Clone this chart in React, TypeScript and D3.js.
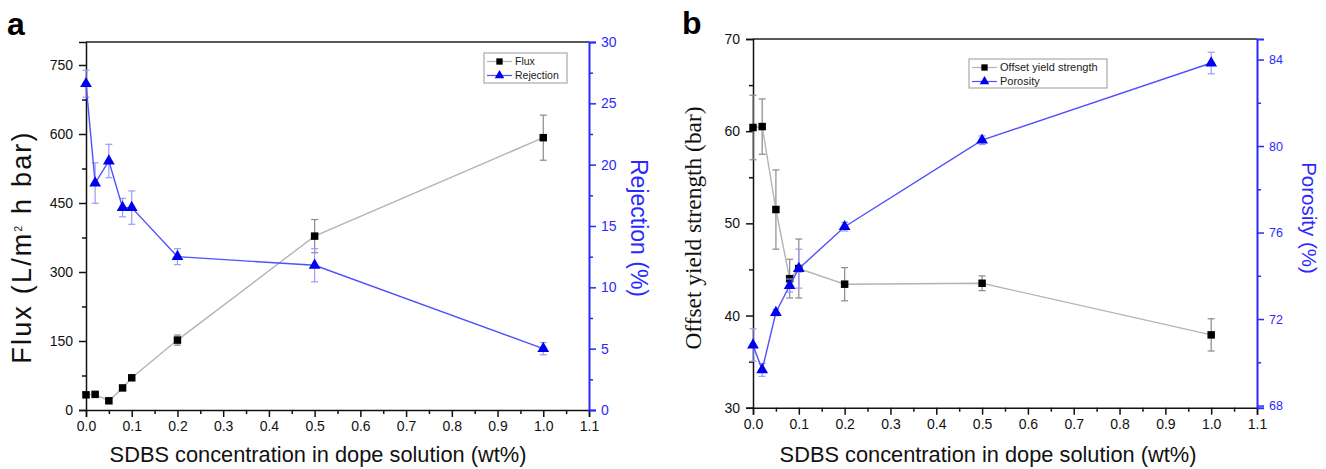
import React, { useEffect, useRef } from 'react';
import * as d3 from 'd3';

// SDBS concentration (wt%)
const concentration = [0, 0.02, 0.05, 0.08, 0.1, 0.2, 0.5, 1.0];

// panel a
const fluxValues = [33, 34, 20, 48, 70, 152, 378, 592];
const fluxErrors = [4, 4, 4, 5, 5, 11, 36, 49];
const rejectionValues = [26.6, 18.5, 20.3, 16.5, 16.5, 12.5, 11.8, 5.0];
const rejectionErrors = [1.1, 1.65, 1.36, 0.75, 1.36, 0.65, 1.35, 0.5];

// panel b
const strengthValues = [60.4, 60.5, 51.5, 44.0, 45.1, 43.4, 43.5, 37.9];
const strengthErrors = [3.5, 3.0, 4.3, 2.1, 3.2, 1.8, 0.8, 1.75];
const porosityValues = [70.8, 69.65, 72.3, 73.55, 74.33, 76.27, 80.27, 83.84];
const porosityErrors = [0.75, 0.3, 0.15, 0.3, 0.9, 0.2, 0.2, 0.5];

// ticks
const xTicks = [0, 0.1, 0.2, 0.3, 0.4, 0.5, 0.6, 0.7, 0.8, 0.9, 1.0, 1.1];
const xMinor = [0.05, 0.15, 0.25, 0.35, 0.45, 0.55, 0.65, 0.75, 0.85, 0.95, 1.05];
const fluxTicks = [0, 150, 300, 450, 600, 750];
const fluxMinor = [75, 225, 375, 525, 675];
const rejectionTicks = [0, 5, 10, 15, 20, 25, 30];
const rejectionMinor = [2.5, 7.5, 12.5, 17.5, 22.5, 27.5];
const strengthTicks = [30, 40, 50, 60, 70];
const strengthMinor = [35, 45, 55, 65];
const porosityTicks = [68, 72, 76, 80, 84];
const porosityMinor = [70, 74, 78, 82];

const SANS = 'Liberation Sans, Arial, sans-serif';
const SERIF = 'Liberation Serif, Times New Roman, serif';
const BLUE_AXIS = '#2a2aff';
const BLUE_LINE = '#5050ff';
const BLUE_MARK = '#0000f0';
const BLUE_ERR = '#9a9aff';
const GREY_LINE = '#b4b4b4';
const GREY_ERR = '#8a8a8a';

const panels = [
  {
    label: 'a', labelX: 7, labelY: 35,
    left: 86, right: 589, top: 42, bottom: 410,
    yL: [0, 800], yLTicks: fluxTicks, yLMinor: fluxMinor,
    yR: [0, 30], yRTicks: rejectionTicks, yRMinor: rejectionMinor, yRFont: 14,
    s1: { name: 'Flux', values: fluxValues, errors: fluxErrors },
    s2: { name: 'Rejection', values: rejectionValues, errors: rejectionErrors },
    legend: { x: 484, y: 53, w: 83, h: 30, font: 10.5 },
    xTitleX: 318,
    leftTitle: { x: 21, y: 247 }, rightTitle: { x: 639, y: 228, text: 'Rejection (%)', size: 23 },
  },
  {
    label: 'b', labelX: 682, labelY: 34,
    left: 753, right: 1257, top: 39, bottom: 407.7,
    yL: [30, 70], yLTicks: strengthTicks, yLMinor: strengthMinor,
    yR: [67.9, 84.95], yRTicks: porosityTicks, yRMinor: porosityMinor, yRFont: 12.5,
    s1: { name: 'Offset yield strength', values: strengthValues, errors: strengthErrors },
    s2: { name: 'Porosity', values: porosityValues, errors: porosityErrors },
    legend: { x: 969, y: 59, w: 138, h: 29, font: 11 },
    xTitleX: 988,
    leftTitle: { x: 693, y: 228 }, rightTitle: { x: 1309, y: 218, text: 'Porosity (%)', size: 20.5 },
  },
];

const App = () => {
  const ref = useRef<SVGSVGElement>(null);

  useEffect(() => {
    const svg = d3.select(ref.current);
    svg.selectAll('*').remove();

    panels.forEach((p) => {
      const g = svg.append('g');
      const x = d3.scaleLinear().domain([0, 1.1]).range([p.left, p.right]);
      const yL = d3.scaleLinear().domain(p.yL).range([p.bottom, p.top]);
      const yR = d3.scaleLinear().domain(p.yR).range([p.bottom, p.top]);

      // panel label
      g.append('text')
        .attr('x', p.labelX).attr('y', p.labelY)
        .attr('font-family', SANS).attr('font-weight', 'bold').attr('font-size', 32)
        .text(p.label);

      // top frame
      g.append('line')
        .attr('x1', p.left).attr('x2', p.right).attr('y1', p.top).attr('y2', p.top)
        .attr('stroke', '#222').attr('stroke-width', 1.5);

      const styleAxis = (sel: any, color: string, width: number, font: number) => {
        sel.select('.domain').attr('stroke', color).attr('stroke-width', width);
        sel.selectAll('.tick line').attr('stroke', color).attr('stroke-width', 1.5);
        sel.selectAll('.tick text').attr('fill', color).attr('font-size', font).attr('font-family', SANS);
      };

      // x axis
      const xa = g.append('g').attr('transform', `translate(0,${p.bottom})`)
        .call(d3.axisBottom(x).tickValues(xTicks).tickFormat(d3.format('.1f')).tickSize(7).tickPadding(4));
      styleAxis(xa, '#111', 1.5, 14);
      const xm = g.append('g').attr('transform', `translate(0,${p.bottom})`)
        .call(d3.axisBottom(x).tickValues(xMinor).tickFormat(() => '').tickSize(4));
      styleAxis(xm, '#111', 0, 14);
      xm.select('.domain').remove();

      // left axis
      const la = g.append('g').attr('transform', `translate(${p.left},0)`)
        .call(d3.axisLeft(yL).tickValues(p.yLTicks).tickSize(7).tickPadding(6));
      styleAxis(la, '#111', 1.5, 14);
      const lm = g.append('g').attr('transform', `translate(${p.left},0)`)
        .call(d3.axisLeft(yL).tickValues(p.yLMinor).tickFormat(() => '').tickSize(4));
      styleAxis(lm, '#111', 0, 14);
      lm.select('.domain').remove();

      // right axis
      const ra = g.append('g').attr('transform', `translate(${p.right},0)`)
        .call(d3.axisRight(yR).tickValues(p.yRTicks).tickSize(7).tickPadding(5));
      styleAxis(ra, BLUE_AXIS, 2, p.yRFont);
      const rm = g.append('g').attr('transform', `translate(${p.right},0)`)
        .call(d3.axisRight(yR).tickValues(p.yRMinor).tickFormat(() => '').tickSize(4));
      styleAxis(rm, BLUE_AXIS, 0, 14);
      rm.select('.domain').remove();

      const drawSeries = (s: any, y: any, lineColor: string, errColor: string, markColor: string, sym: any, size: number) => {
        const pts = concentration.map((c, i) => ({ c, v: s.values[i], e: s.errors[i] }));
        const eg = g.append('g').attr('stroke', errColor).attr('stroke-width', 1.2);
        pts.forEach((d) => {
          const cx = x(d.c);
          eg.append('line').attr('x1', cx).attr('x2', cx).attr('y1', y(d.v - d.e)).attr('y2', y(d.v + d.e));
          eg.append('line').attr('x1', cx - 3.5).attr('x2', cx + 3.5).attr('y1', y(d.v - d.e)).attr('y2', y(d.v - d.e));
          eg.append('line').attr('x1', cx - 3.5).attr('x2', cx + 3.5).attr('y1', y(d.v + d.e)).attr('y2', y(d.v + d.e));
        });
        g.append('path')
          .datum(pts)
          .attr('fill', 'none').attr('stroke', lineColor).attr('stroke-width', 1.4)
          .attr('d', d3.line<any>().x((d) => x(d.c)).y((d) => y(d.v)));
        g.append('g').selectAll('path').data(pts).enter().append('path')
          .attr('transform', (d) => `translate(${x(d.c)},${y(d.v)})`)
          .attr('fill', markColor)
          .attr('d', d3.symbol().type(sym).size(size)());
      };

      drawSeries(p.s1, yL, GREY_LINE, GREY_ERR, '#000', d3.symbolSquare, 56);
      drawSeries(p.s2, yR, BLUE_LINE, BLUE_ERR, BLUE_MARK, d3.symbolTriangle, 60);

      // legend
      const lg = g.append('g');
      const L = p.legend;
      lg.append('rect').attr('x', L.x).attr('y', L.y).attr('width', L.w).attr('height', L.h)
        .attr('fill', '#fff').attr('stroke', '#999').attr('stroke-width', 1);
      const items = [
        { name: p.s1.name, color: GREY_LINE, mark: '#000', sym: d3.symbolSquare, size: 40 },
        { name: p.s2.name, color: BLUE_LINE, mark: BLUE_MARK, sym: d3.symbolTriangle, size: 40 },
      ];
      items.forEach((it, i) => {
        const cy = L.y + 8.5 + i * 14;
        lg.append('line').attr('x1', L.x + 3).attr('x2', L.x + 28).attr('y1', cy).attr('y2', cy)
          .attr('stroke', it.color).attr('stroke-width', 1.2);
        lg.append('path').attr('transform', `translate(${L.x + 15.5},${cy})`)
          .attr('fill', it.mark).attr('d', d3.symbol().type(it.sym).size(it.size)());
        lg.append('text').attr('x', L.x + 31).attr('y', cy).attr('dy', '0.36em')
          .attr('font-family', SANS).attr('font-size', L.font).attr('fill', '#222')
          .text(it.name);
      });

      // x title
      g.append('text')
        .attr('x', p.xTitleX).attr('y', 462)
        .attr('text-anchor', 'middle')
        .attr('font-family', SANS).attr('font-size', 21.8).attr('fill', '#111')
        .text('SDBS concentration in dope solution (wt%)');

      // left title
      if (p.label === 'a') {
        const t = g.append('text')
          .attr('transform', `translate(${p.leftTitle.x},${p.leftTitle.y}) rotate(-90)`)
          .attr('text-anchor', 'middle').attr('dy', '0.36em')
          .attr('font-family', SANS).attr('font-size', 27).attr('letter-spacing', 2.2)
          .attr('fill', '#111');
        t.append('tspan').text('Flux (L/m');
        t.append('tspan').attr('font-size', 10).attr('dy', '-0.9em').text('2');
        t.append('tspan').attr('dy', '0.36em').text(' h bar)');
      } else {
        g.append('text')
          .attr('transform', `translate(${p.leftTitle.x},${p.leftTitle.y}) rotate(-90)`)
          .attr('text-anchor', 'middle').attr('dy', '0.36em')
          .attr('font-family', SERIF).attr('font-size', 23.4).attr('fill', '#111')
          .text('Offset yield strength (bar)');
      }

      // right title
      g.append('text')
        .attr('transform', `translate(${p.rightTitle.x},${p.rightTitle.y}) rotate(90)`)
        .attr('text-anchor', 'middle').attr('dy', '0.36em')
        .attr('font-family', SANS).attr('font-size', p.rightTitle.size).attr('fill', BLUE_AXIS)
        .text(p.rightTitle.text);
    });
  }, []);

  return (
    <svg
      ref={ref}
      width={1326}
      height={469}
      style={{ position: 'absolute', left: 0, top: 0, background: '#fff' }}
    />
  );
};

export default App;
